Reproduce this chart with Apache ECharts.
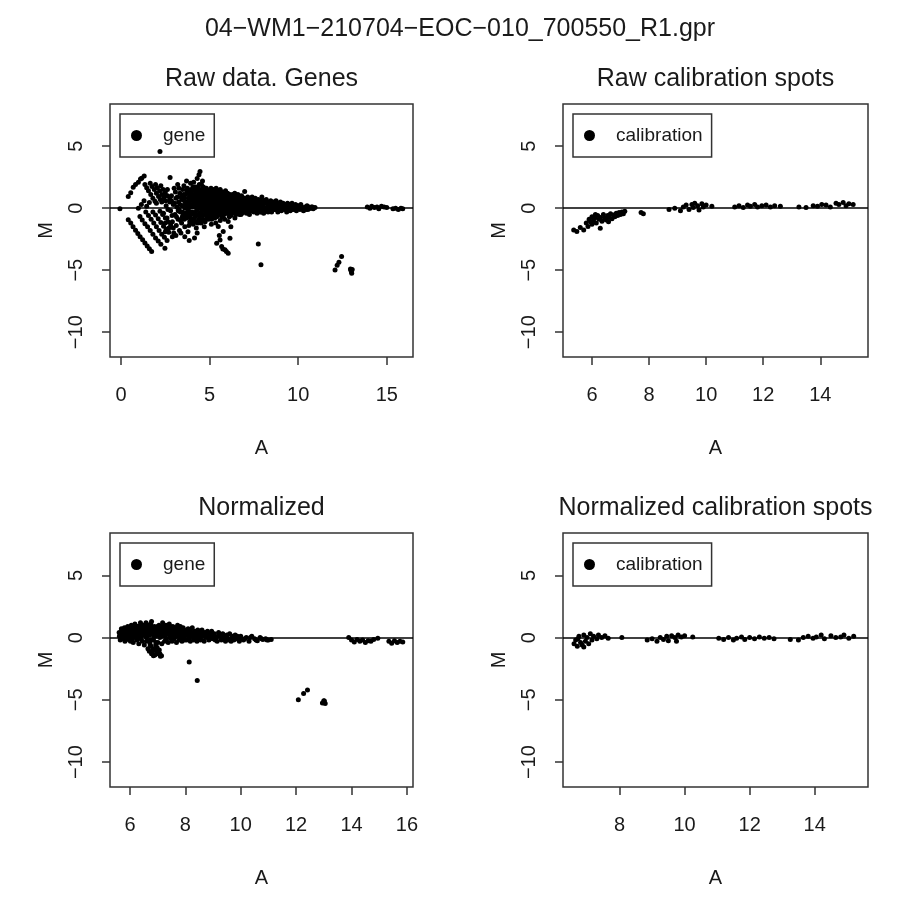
<!DOCTYPE html>
<html><head><meta charset="utf-8">
<script src="https://cdn.jsdelivr.net/npm/echarts@6/dist/echarts.min.js"></script>
<style>html,body{margin:0;padding:0;background:#fff}#c{width:899px;height:903px}</style>
</head><body><div id="c"></div>
<script>
// ---------- texts & ticks ----------
const mainTitle = '04-WM1-210704-EOC-010_700550_R1.gpr';
const panelTitles = ['Raw data. Genes', 'Raw calibration spots', 'Normalized', 'Normalized calibration spots'];
const seriesNames = ['gene', 'calibration', 'gene', 'calibration'];
const xTicks = [[0, 5, 10, 15], [6, 8, 10, 12, 14], [6, 8, 10, 12, 14, 16], [8, 10, 12, 14]];
const yTicks = [-10, -5, 0, 5];
const xRanges = [[-0.62, 16.48], [4.985, 15.67], [5.28, 16.22], [6.26, 15.64]];
const yRange = [-12.0, 8.4];

// ---------- Panel 1: raw genes (A, M) ----------
const rawStreaks = [
  [0.41,0.94],[0.55,1.25],[0.69,1.69],[0.82,1.9],[0.98,2.1],[1.1,2.35],[1.17,2.42],[1.31,2.6],
  [1.35,1.9],[1.45,1.65],[1.55,1.4],[1.68,1.1],[1.8,0.8],[1.92,0.55],[2.0,0.4],
  [1.65,2.0],[1.75,1.75],[1.88,1.5],[2.0,1.2],[2.12,0.95],[2.22,0.7],[2.3,0.5],
  [1.95,1.9],[2.05,1.65],[2.18,1.4],[2.3,1.1],[2.42,0.85],[2.52,0.6],
  [2.25,1.8],[2.38,1.5],[2.5,1.25],[2.62,1.0],[2.75,0.75],[2.85,0.6],
  [1.15,0.3],[1.3,0.6],[1.45,0.15],[1.6,0.45],
  [0.41,-0.94],[0.55,-1.2],[0.68,-1.5],[0.82,-1.78],[0.95,-2.05],[1.08,-2.3],[1.22,-2.55],[1.35,-2.8],[1.48,-3.05],[1.6,-3.28],[1.73,-3.5],
  [1.07,-0.68],[1.2,-0.95],[1.35,-1.25],[1.5,-1.5],[1.65,-1.8],[1.8,-2.1],[1.95,-2.4],[2.1,-2.65],[2.25,-2.9],[2.48,-3.23],
  [1.4,-0.3],[1.55,-0.6],[1.7,-0.9],[1.85,-1.2],[2.0,-1.5],[2.15,-1.8],[2.3,-2.1],[2.45,-2.35],[2.6,-2.6],
  [1.8,-0.3],[1.95,-0.55],[2.1,-0.85],[2.25,-1.15],[2.4,-1.45],[2.55,-1.7],[2.7,-1.95],[2.9,-2.3],
  [2.2,-0.25],[2.35,-0.5],[2.5,-0.8],[2.65,-1.1],[2.8,-1.35],[2.95,-1.6],
  [-0.06,-0.05],[0.98,0.0]
];
const rawCloud = [
  [2.35,0.6],[2.4,-0.4],[2.45,1.1],[2.5,-1.2],[2.55,0.2],[2.6,-0.8],[2.62,1.5],[2.7,-1.6],[2.75,0.5],[2.77,2.47],[2.8,-0.2],[2.85,1.0],[2.9,-1.1],[2.95,0.3],[2.98,-2.0],[2.5,-1.9],[2.65,-0.1],[2.88,-0.6],
  [3.0,1.6],[3.05,-0.5],[3.1,0.8],[3.12,-1.4],[3.15,0.1],[3.2,1.9],[3.22,-0.9],[3.25,0.5],[3.3,-1.8],[3.32,1.2],[3.35,-0.3],[3.4,0.9],[3.42,-1.2],[3.45,0.2],[3.48,1.5],[3.1,-2.2],[3.28,-0.1],[3.38,-2.0],[3.46,-0.7],
  [3.5,-0.4],[3.55,1.8],[3.58,0.6],[3.6,-1.5],[3.62,0.0],[3.65,1.1],[3.7,-0.8],[3.72,0.4],[3.75,1.6],[3.78,-1.9],[3.8,0.8],[3.82,-0.2],[3.85,1.3],[3.88,-1.1],[3.9,0.3],[3.93,2.0],[3.95,-0.5],[3.98,0.9],[3.6,-2.3],[3.7,2.2],[3.85,-2.6],
  [4.0,1.4],[4.02,-0.3],[4.05,0.6],[4.08,-1.3],[4.1,2.1],[4.12,0.1],[4.15,1.0],[4.18,-0.7],[4.2,1.7],[4.22,0.4],[4.25,-1.6],[4.28,0.8],[4.3,2.4],[4.32,-0.1],[4.35,1.2],[4.38,-0.9],[4.4,0.5],[4.42,1.9],[4.45,-0.4],[4.46,2.95],[4.48,0.9],[4.3,-2.0],[4.15,-2.4],[4.4,2.7],
  [4.5,1.5],[4.52,-1.2],[4.55,0.3],[4.58,1.1],[4.6,-0.6],[4.62,0.7],[4.65,1.7],[4.68,0.0],[4.7,-1.5],[4.72,1.3],[4.75,0.5],[4.78,-0.3],[4.8,0.9],[4.82,1.6],[4.85,-0.8],[4.88,0.2],[4.9,1.2],[4.92,-0.2],[4.95,0.7],[4.98,1.4],[4.6,2.2],[4.75,-1.1],
  [5.0,0.4],[5.02,-0.5],[5.05,1.0],[5.08,1.6],[5.1,0.1],[5.12,-0.9],[5.15,0.6],[5.18,1.3],[5.2,-0.2],[5.22,0.8],[5.25,1.5],[5.28,0.3],[5.3,-0.6],[5.32,1.1],[5.35,0.5],[5.38,-0.1],[5.4,1.4],[5.42,0.7],[5.45,-0.4],[5.48,1.0],[5.1,-1.3],[5.35,-1.2],
  [5.5,0.2],[5.52,1.2],[5.55,-0.3],[5.58,0.7],[5.6,1.5],[5.62,0.0],[5.65,0.9],[5.68,-0.7],[5.7,0.4],[5.72,1.3],[5.75,-0.2],[5.78,0.6],[5.8,1.1],[5.82,-0.5],[5.85,0.3],[5.88,0.8],[5.9,1.4],[5.92,-0.1],[5.95,0.5],[5.98,1.0],[5.6,-1.0],[5.85,-0.9],
  [6.0,0.2],[6.02,1.2],[6.05,-0.4],[6.08,0.6],[6.1,0.9],[6.12,-0.1],[6.15,1.1],[6.18,0.4],[6.2,-0.6],[6.22,0.7],[6.25,0.1],[6.28,1.0],[6.3,-0.3],[6.32,0.5],[6.35,0.8],[6.38,-0.2],[6.4,0.3],[6.42,1.2],[6.45,0.6],[6.48,-0.5],
  [6.5,0.2],[6.52,0.9],[6.55,-0.3],[6.58,0.5],[6.6,1.1],[6.62,0.0],[6.65,0.7],[6.68,-0.5],[6.7,0.3],[6.72,0.9],[6.75,-0.1],[6.78,0.5],[6.8,1.0],[6.82,-0.4],[6.85,0.2],[6.88,0.7],[6.9,-0.2],[6.95,0.4],[6.98,1.34],
  [7.0,0.1],[7.05,0.7],[7.08,-0.4],[7.1,0.4],[7.15,0.9],[7.18,-0.1],[7.2,0.5],[7.25,-0.5],[7.28,0.2],[7.3,0.8],[7.35,-0.2],[7.38,0.4],[7.4,0.9],[7.45,0.0],[7.48,0.6],
  [7.5,-0.3],[7.55,0.3],[7.58,0.8],[7.6,0.0],[7.65,0.5],[7.68,-0.4],[7.7,0.2],[7.75,0.7],[7.78,-0.1],[7.8,0.4],[7.85,-0.3],[7.88,0.6],[7.9,0.1],[7.95,0.9],[7.98,-0.2],
  [8.0,0.3],[8.05,-0.4],[8.08,0.6],[8.1,0.0],[8.15,0.4],[8.18,-0.2],[8.2,0.7],[8.25,0.1],[8.3,-0.3],[8.32,0.5],[8.38,0.2],[8.42,-0.1],[8.45,0.6],[8.48,0.3],
  [8.5,-0.3],[8.55,0.2],[8.6,0.5],[8.65,-0.1],[8.7,0.3],[8.75,0.6],[8.8,0.0],[8.85,-0.3],[8.9,0.4],[8.95,0.1],
  [9.0,0.5],[9.05,-0.2],[9.1,0.2],[9.15,0.4],[9.2,-0.1],[9.25,0.3],[9.3,0.1],[9.35,-0.3],[9.4,0.4],[9.45,0.0],
  [9.5,0.3],[9.55,-0.2],[9.6,0.1],[9.65,0.4],[9.7,-0.1],[9.75,0.2],[9.8,0.0],[9.85,0.3],[9.9,-0.2],[9.95,0.1],
  [10.0,0.2],[10.1,-0.1],[10.15,0.3],[10.25,0.0],[10.3,-0.2],[10.4,0.1],[10.5,0.2],[10.55,-0.1],[10.65,0.0],[10.75,0.1],[10.85,-0.05],[10.95,0.05]
];
const rawCloudDense = [
  [3.02,0.4],[3.07,1.3],[3.13,-0.7],[3.18,0.9],[3.23,-0.2],[3.27,1.6],[3.33,0.3],[3.37,-1.0],[3.43,0.7],[3.47,-0.3],[3.53,1.1],[3.57,-0.9],[3.63,0.5],[3.67,-0.4],[3.73,1.2],[3.77,0.1],[3.83,-1.4],[3.87,0.6],[3.92,-0.8],[3.97,1.5],
  [4.03,0.2],[4.07,1.1],[4.11,-1.0],[4.14,0.5],[4.19,1.4],[4.23,-0.5],[4.27,0.2],[4.31,1.5],[4.34,-1.2],[4.39,0.9],[4.43,0.0],[4.47,-0.9],[4.51,0.6],[4.54,1.9],[4.57,-0.2],[4.61,1.2],[4.64,0.3],[4.67,-1.0],[4.71,0.9],[4.74,-0.5],[4.77,1.3],[4.81,0.1],[4.84,-0.4],[4.87,1.0],[4.91,0.4],[4.94,-0.9],[4.97,0.2],[4.99,0.9],
  [5.01,1.2],[5.04,-0.2],[5.07,0.7],[5.11,1.4],[5.14,-0.6],[5.17,0.2],[5.21,0.5],[5.24,-0.3],[5.27,1.2],[5.31,0.0],[5.34,0.8],[5.37,1.6],[5.41,-0.7],[5.44,0.4],[5.47,1.2],[5.51,-0.5],[5.54,0.9],[5.57,0.3],[5.61,-0.4],[5.64,1.1],[5.67,0.2],[5.71,0.8],[5.74,-0.6],[5.77,1.0],[5.81,0.2],[5.84,1.2],[5.87,-0.3],[5.91,0.6],[5.94,0.0],[5.97,0.7],
  [6.01,-0.2],[6.04,0.8],[6.07,0.3],[6.11,-0.7],[6.14,0.6],[6.17,1.0],[6.21,0.2],[6.24,-0.3],[6.27,0.6],[6.31,1.1],[6.34,0.0],[6.37,0.5],[6.41,-0.4],[6.44,0.9],[6.47,0.2],[6.51,-0.1],[6.54,0.6],[6.57,1.0],[6.61,0.3],[6.64,-0.3],[6.67,0.4],[6.71,0.7],[6.74,0.0],[6.77,-0.5],[6.81,0.6],[6.84,0.9],[6.87,0.1],[6.91,0.4],[6.94,-0.3],[6.97,0.8],
  [7.02,0.3],[7.07,-0.2],[7.12,0.6],[7.17,0.2],[7.22,-0.3],[7.27,0.7],[7.32,0.3],[7.37,-0.1],[7.42,0.6],[7.47,0.2],[7.52,0.5],[7.57,-0.2],[7.62,0.3],[7.67,0.6],[7.72,-0.2],[7.77,0.3],[7.82,0.0],[7.87,0.4],[7.92,-0.3],[7.97,0.3],[8.03,0.1],[8.12,0.5],[8.22,-0.1],[8.28,0.4],[8.35,0.0],[8.44,0.3],
  [8.52,0.1],[8.62,0.3],[8.72,-0.1],[8.82,0.2],[8.92,-0.1],[9.02,0.2],[9.12,0.0],[9.22,0.2],[9.32,-0.1],[9.42,0.2],[9.52,0.0],[9.62,-0.1],[9.72,0.2],[9.82,-0.1],[9.92,0.2],[10.05,0.0],[10.2,0.1],[10.35,0.0],[10.45,-0.1],[10.6,0.1],[10.7,0.0],[10.8,0.1]
];
const rawCloudFill = [
  [3.52,0.2],[3.56,0.9],[3.61,-0.6],[3.66,0.3],[3.71,1.4],[3.76,-0.3],[3.81,0.5],[3.86,-0.6],[3.91,1.0],[3.96,0.1],
  [4.01,0.7],[4.04,-0.9],[4.06,1.7],[4.09,0.3],[4.13,-0.4],[4.16,0.8],[4.21,-1.1],[4.24,1.1],[4.26,-0.2],[4.29,0.5],[4.33,1.7],[4.36,0.2],[4.41,-0.6],[4.44,1.3],[4.49,0.2],
  [4.53,-0.4],[4.56,0.9],[4.59,1.4],[4.63,-0.9],[4.66,0.4],[4.69,1.0],[4.73,-0.1],[4.76,0.7],[4.79,1.5],[4.83,-0.6],[4.86,0.5],[4.89,1.4],[4.93,0.0],[4.96,1.1],
  [5.03,0.3],[5.06,-0.8],[5.09,0.9],[5.13,0.3],[5.16,1.1],[5.19,-0.4],[5.23,1.0],[5.26,0.6],[5.29,-0.8],[5.33,0.4],[5.36,1.3],[5.39,0.2],[5.43,0.9],[5.46,0.1],[5.49,0.6],
  [5.53,0.5],[5.56,1.0],[5.59,-0.2],[5.63,0.6],[5.66,-0.5],[5.69,1.1],[5.73,0.1],[5.76,0.9],[5.79,-0.4],[5.83,0.5],[5.86,1.0],[5.89,-0.1],[5.93,0.9],[5.96,-0.4],[5.99,0.4],
  [6.03,0.5],[6.06,1.0],[6.09,-0.2],[6.13,0.3],[6.16,-0.5],[6.19,0.8],[6.23,0.4],[6.26,0.9],[6.29,-0.1],[6.33,0.2],[6.36,1.0],[6.39,0.5],[6.43,-0.1],[6.46,0.4],[6.49,0.8],
  [6.53,0.0],[6.56,0.4],[6.59,-0.4],[6.63,0.8],[6.66,0.2],[6.69,0.5],[6.73,-0.3],[6.76,0.6],[6.79,0.1],[6.83,0.5],[6.86,-0.2],[6.89,0.3],[6.93,0.7],[6.96,0.0],[6.99,0.5],
  [7.03,-0.1],[7.06,0.4],[7.11,0.1],[7.16,0.5],[7.21,-0.1],[7.26,0.4],[7.31,0.0],[7.36,0.6],[7.41,0.2],[7.46,-0.2],[7.51,0.4],[7.56,0.0],[7.61,0.6],[7.66,0.2],[7.71,0.4],[7.76,-0.1],[7.81,0.2],[7.86,0.5],[7.91,-0.1],[7.96,0.2]
];
const rawLowAndFar = [
  [5.49,-1.48],[5.59,-2.56],[5.68,-3.1],[5.87,-3.36],[6.05,-3.63],[5.77,-1.88],[6.15,-2.42],[5.40,-2.82],[6.05,-1.08],[6.43,-0.8],[5.95,-3.5],[5.75,-3.3],[5.55,-2.2],[6.2,-1.5],
  [2.2,4.56],[7.75,-2.88],[7.9,-4.57],
  [12.08,-4.98],[12.2,-4.6],[12.3,-4.35],[12.45,-3.9],[12.95,-4.9],[13.0,-5.1],[13.02,-5.25],[12.98,-5.0],[13.05,-4.95],
  [13.9,0.1],[14.05,0.0],[14.15,0.15],[14.3,0.05],[14.45,0.1],[14.55,-0.05],[14.7,0.15],[14.85,0.1],[15.0,0.05],[15.35,-0.05],[15.5,0.0],[15.65,-0.1],[15.8,0.0],[15.9,-0.05]
];

// ---------- Panel 2: raw calibration ----------
const rawCalib = [
  [5.36,-1.75],[5.47,-1.89],[5.59,-1.56],[5.71,-1.75],[5.86,-1.48],[6.29,-1.61],
  [5.8,-1.2],[5.9,-0.9],[5.95,-1.1],[6.0,-0.7],[6.05,-1.0],[6.1,-0.8],[6.15,-1.2],[6.2,-0.6],[6.25,-0.9],[6.3,-0.75],[6.35,-1.05],[6.4,-0.5],[6.45,-0.8],[6.5,-0.95],[6.55,-0.6],[6.6,-0.75],[6.65,-0.45],[6.7,-0.85],[6.75,-0.55],[6.8,-0.7],[6.85,-0.4],[6.9,-0.6],[6.95,-0.35],[7.0,-0.5],[7.05,-0.3],[7.1,-0.45],[7.15,-0.25],[6.12,-0.5],[6.58,-1.1],[6.0,-1.3],
  [7.72,-0.35],[7.8,-0.45],
  [8.7,-0.1],[8.9,0.0],[9.1,-0.2],[9.2,0.1],[9.3,0.25],[9.4,-0.1],[9.5,0.3],[9.55,0.05],[9.6,0.4],[9.7,0.2],[9.75,-0.15],[9.85,0.35],[9.9,0.1],[10.0,0.25],[10.2,0.15],
  [11.0,0.1],[11.15,0.2],[11.3,0.05],[11.45,0.25],[11.55,0.15],[11.7,0.3],[11.8,0.1],[11.95,0.2],[12.1,0.25],[12.25,0.1],[12.4,0.2],[12.6,0.15],
  [13.25,0.1],[13.5,0.05],[13.75,0.2],[13.9,0.15],[14.05,0.3],[14.2,0.25],[14.35,0.1],[14.55,0.4],[14.65,0.3],[14.8,0.45],[14.9,0.2],[15.0,0.35],[15.15,0.3]
];

// ---------- Panel 3: normalized genes ----------
const normCloud = [
  [5.62,0.1],[5.65,-0.2],[5.68,0.4],[5.7,0.0],[5.72,0.6],[5.75,-0.1],[5.78,0.3],[5.8,0.8],[5.82,-0.3],[5.85,0.2],[5.88,0.5],[5.9,-0.1],[5.92,0.9],[5.95,0.3],[5.98,-0.2],[5.7,0.3],[5.85,0.7],
  [6.0,0.5],[6.02,-0.3],[6.05,1.0],[6.08,0.2],[6.1,0.7],[6.12,-0.4],[6.15,0.4],[6.18,1.1],[6.2,0.0],[6.22,0.6],[6.25,-0.2],[6.28,0.9],[6.3,0.3],[6.32,-0.5],[6.35,0.7],[6.38,1.2],[6.4,0.1],[6.42,0.5],[6.45,-0.3],[6.48,0.9],[6.1,0.2],[6.3,0.6],[6.45,1.0],
  [6.5,0.3],[6.52,-0.6],[6.55,0.8],[6.58,1.2],[6.6,0.0],[6.62,0.5],[6.65,-0.9],[6.68,1.0],[6.7,0.2],[6.72,-0.4],[6.75,0.7],[6.78,1.3],[6.8,-1.2],[6.82,0.4],[6.85,-0.2],[6.88,0.9],[6.9,-1.4],[6.92,0.1],[6.95,0.6],[6.98,-0.8],[6.7,-1.1],[6.85,-1.45],[6.6,-0.3],[6.75,1.1],
  [7.0,0.4],[7.02,-1.3],[7.05,1.0],[7.08,0.0],[7.1,-1.5],[7.12,0.6],[7.15,-0.5],[7.18,1.2],[7.2,0.2],[7.22,0.8],[7.25,-0.3],[7.28,0.5],[7.3,1.0],[7.32,-0.1],[7.35,0.6],[7.38,-0.4],[7.4,0.3],[7.42,1.1],[7.45,0.0],[7.48,0.7],[7.14,-1.45],
  [7.5,0.2],[7.52,-0.3],[7.55,0.9],[7.58,0.4],[7.6,-0.1],[7.62,0.7],[7.65,0.1],[7.68,-0.4],[7.7,0.6],[7.72,1.0],[7.75,0.2],[7.78,-0.2],[7.8,0.5],[7.82,0.9],[7.85,0.0],[7.88,-0.3],[7.9,0.4],[7.92,0.8],[7.95,0.1],[7.98,-0.2],
  [8.0,0.5],[8.05,-0.2],[8.08,0.3],[8.1,0.7],[8.15,0.0],[8.18,-0.3],[8.2,0.4],[8.25,0.8],[8.28,0.1],[8.3,-0.2],[8.35,0.5],[8.38,0.2],[8.42,-0.3],[8.45,0.6],[8.48,0.0],
  [8.5,0.3],[8.55,-0.2],[8.6,0.6],[8.62,0.1],[8.68,-0.3],[8.7,0.4],[8.75,0.0],[8.8,0.5],[8.85,-0.2],[8.9,0.2],[8.95,0.5],
  [9.0,-0.1],[9.05,0.3],[9.1,0.0],[9.15,-0.3],[9.2,0.4],[9.25,0.1],[9.3,-0.2],[9.35,0.3],[9.4,0.0],[9.45,-0.3],
  [9.5,0.2],[9.55,-0.1],[9.6,0.3],[9.65,-0.3],[9.7,0.1],[9.75,-0.2],[9.8,0.2],[9.85,-0.1],[9.9,0.0],[9.95,-0.3],
  [10.0,0.1],[10.1,-0.2],[10.2,0.0],[10.3,-0.3],[10.4,0.1],[10.5,-0.1],[10.6,-0.25],[10.7,0.0],[10.8,-0.15],[10.9,-0.1],[11.0,-0.2],[11.1,-0.15]
];
const normCloudDense = [
  [5.64,0.3],[5.69,0.7],[5.74,0.2],[5.79,0.5],[5.84,-0.1],[5.89,0.8],[5.94,0.1],[5.99,0.6],[6.04,0.3],[6.09,-0.1],[6.14,0.8],[6.19,0.4],[6.24,0.9],[6.29,0.1],[6.34,0.4],[6.39,-0.1],[6.44,0.7],[6.49,0.3],[6.54,0.4],[6.59,0.9],[6.64,0.3],[6.69,0.6],[6.74,-0.2],[6.79,0.3],[6.84,0.8],[6.89,0.4],[6.94,-0.4],[6.99,0.9],[6.76,-0.7],[6.96,-1.1],[7.06,-1.0],
  [7.04,0.3],[7.09,0.7],[7.14,0.1],[7.19,0.5],[7.24,0.9],[7.29,0.2],[7.34,0.4],[7.39,0.8],[7.44,0.3],[7.49,-0.1],[7.54,0.6],[7.59,0.2],[7.64,0.5],[7.69,0.1],[7.74,0.7],[7.79,0.3],[7.84,0.6],[7.89,0.1],[7.94,0.5],[7.99,0.3],[8.06,0.2],[8.14,0.5],[8.22,0.1],[8.32,0.3],[8.4,0.0],[8.5,0.4],[8.58,0.1],[8.66,0.3],[8.78,0.1],[8.88,-0.1],[8.98,0.2],
  [9.08,-0.2],[9.18,0.1],[9.28,0.2],[9.38,-0.1],[9.48,0.1],[9.58,-0.2],[9.68,0.0],[9.78,-0.1],[9.88,0.1],[9.98,-0.1],[10.15,-0.1],[10.35,0.0],[10.55,-0.2],[10.75,-0.1],[10.95,-0.2]
];
const normCloudFill = [
  [5.61,0.4],[5.66,0.2],[5.71,0.6],[5.76,0.4],[5.81,0.1],[5.86,0.6],[5.91,0.3],[5.96,0.7],[6.01,0.1],[6.06,0.6],[6.11,0.4],[6.16,0.9],[6.21,0.3],[6.26,0.6],[6.31,0.9],[6.36,0.2],[6.41,0.8],[6.46,0.5],[6.51,1.0],[6.56,0.1],[6.61,0.7],[6.66,0.4],[6.71,0.9],[6.76,0.3],[6.81,0.6],[6.86,0.1],[6.91,0.8],[6.96,0.2],[6.73,-0.6],[6.83,-0.9],[6.93,-0.6],[7.01,-0.4],[6.78,-1.3],[7.08,-1.3],[6.88,-1.0],
  [7.01,0.6],[7.06,0.2],[7.11,0.9],[7.16,0.4],[7.21,0.6],[7.26,0.1],[7.31,0.7],[7.36,0.3],[7.41,0.5],[7.46,0.9],[7.51,0.4],[7.56,0.1],[7.61,0.5],[7.66,0.8],[7.71,0.3],[7.76,0.5],[7.81,0.2],[7.86,0.7],[7.91,0.2],[7.96,0.6],
  [8.03,0.3],[8.11,0.1],[8.19,0.6],[8.27,0.3],[8.36,0.1],[8.44,0.4],[8.53,0.0],[8.63,0.3],[8.73,0.1],[8.83,0.3],[8.93,0.0]
];
const normFar = [
  [8.14,-1.97],[8.43,-3.45],
  [12.08,-5.0],[12.27,-4.5],[12.41,-4.2],[13.0,-5.07],[12.95,-5.25],[13.05,-5.3],[13.02,-5.1],
  [13.9,0.0],[14.0,-0.2],[14.1,-0.35],[14.2,-0.15],[14.3,-0.3],[14.4,-0.2],[14.5,-0.4],[14.6,-0.25],[14.7,-0.3],[14.8,-0.15],[14.95,-0.05],
  [15.35,-0.3],[15.45,-0.45],[15.55,-0.25],[15.65,-0.4],[15.75,-0.3],[15.85,-0.35]
];

// ---------- Panel 4: normalized calibration ----------
const normCalib = [
  [6.6,-0.5],[6.65,-0.2],[6.7,-0.7],[6.75,0.1],[6.8,-0.4],[6.85,-0.6],[6.9,0.2],[6.95,-0.3],[7.0,0.0],[7.05,-0.5],[7.1,0.3],[7.15,-0.2],[7.2,0.1],[7.3,-0.1],[7.35,0.2],[7.45,0.0],[7.55,0.15],[7.65,-0.05],[6.72,-0.1],[6.9,-0.75],
  [8.07,0.0],
  [8.85,-0.2],[9.0,-0.1],[9.15,-0.3],[9.25,0.0],[9.35,-0.15],[9.45,0.1],[9.5,-0.25],[9.6,0.15],[9.7,0.0],[9.75,-0.3],[9.8,0.2],[9.9,0.05],[10.0,0.15],[10.25,0.05],
  [11.05,-0.05],[11.2,-0.15],[11.35,0.0],[11.5,-0.2],[11.6,-0.05],[11.75,0.05],[11.85,-0.15],[12.0,0.0],[12.15,-0.1],[12.3,0.05],[12.45,-0.05],[12.6,0.0],[12.75,-0.1],
  [13.25,-0.15],[13.5,-0.2],[13.65,0.0],[13.8,0.1],[13.95,-0.05],[14.05,0.05],[14.2,0.2],[14.3,-0.1],[14.5,0.15],[14.65,0.0],[14.8,0.05],[14.9,0.2],[15.05,-0.05],[15.2,0.1]
];

const panelData = [
  rawStreaks.concat(rawCloud, rawCloudDense, rawCloudFill, rawLowAndFar),
  rawCalib,
  normCloud.concat(normCloudDense, normCloudFill, normFar),
  normCalib
];

// ---------- layout ----------
const FONT = 'Liberation Sans, Arial, Helvetica, sans-serif';
const INK = '#1a1a1a';
const grids = [
  {left: 110, top: 104, width: 303, height: 253},
  {left: 563, top: 104, width: 305, height: 253},
  {left: 110, top: 533, width: 303, height: 254},
  {left: 563, top: 533, width: 305, height: 254}
];
const minus = v => String(v).replace(/-/g, '\u2212');

const option = {
  animation: false,
  backgroundColor: '#ffffff',
  title: [
    {text: minus(mainTitle), left: 460, top: 17, textAlign: 'center', padding: 0,
     textStyle: {fontFamily: FONT, fontSize: 25, fontWeight: 'normal', color: INK}}
  ].concat(panelTitles.map((t, i) => ({
    text: t, left: grids[i].left + grids[i].width / 2, top: grids[i].top - 37, textAlign: 'center', padding: 0,
    textStyle: {fontFamily: FONT, fontSize: 25, fontWeight: 'normal', color: INK}
  }))),
  legend: seriesNames.map((n, i) => ({
    data: [n], left: i % 2 === 0 ? 120 : 573, top: grids[i].top + 10,
    orient: 'horizontal', icon: 'circle', itemWidth: 11, itemHeight: 11,
    borderColor: '#333', borderWidth: 1.5, padding: [12, 9, 12, 11],
    selectedMode: false,
    textStyle: {fontFamily: FONT, fontSize: 19, color: INK, padding: [0, 0, 0, 16]},
    itemStyle: {color: '#000'}
  })),
  grid: grids.map(g => Object.assign({show: true, borderColor: '#333', borderWidth: 1.5, backgroundColor: 'transparent', containLabel: false}, g)),
  xAxis: grids.map((g, i) => ({
    type: 'value', gridIndex: i, min: xRanges[i][0], max: xRanges[i][1],
    name: 'A', nameLocation: 'middle', nameGap: 81,
    nameTextStyle: {fontFamily: FONT, fontSize: 20, color: INK},
    axisLine: {show: false, onZero: false},
    axisTick: {show: true, inside: false, length: 8, customValues: xTicks[i], lineStyle: {color: '#333', width: 1.5}},
    axisLabel: {show: true, customValues: xTicks[i], margin: 28, fontFamily: FONT, fontSize: 20, color: INK, formatter: minus},
    splitLine: {show: false}
  })),
  yAxis: grids.map((g, i) => ({
    type: 'value', gridIndex: i, min: yRange[0], max: yRange[1],
    name: 'M', nameLocation: 'middle', nameGap: 54, nameRotate: 90,
    nameTextStyle: {fontFamily: FONT, fontSize: 20, color: INK},
    axisLine: {show: false, onZero: false},
    axisTick: {show: true, inside: false, length: 8, customValues: yTicks, lineStyle: {color: '#333', width: 1.5}},
    axisLabel: {show: true, customValues: yTicks, rotate: 90, margin: 24, fontFamily: FONT, fontSize: 20, color: INK, formatter: minus},
    splitLine: {show: false}
  })),
  series: panelData.map((d, i) => ({
    type: 'scatter', name: seriesNames[i], xAxisIndex: i, yAxisIndex: i,
    data: d, symbol: 'circle', symbolSize: 5,
    itemStyle: {color: '#000', opacity: 1},
    emphasis: {disabled: true},
    silent: true,
    markLine: {
      silent: true, symbol: 'none', animation: false,
      label: {show: false},
      lineStyle: {color: '#000', width: 1.5, type: 'solid'},
      emphasis: {disabled: true},
      data: [{yAxis: 0}]
    }
  }))
};

const chart = echarts.init(document.getElementById('c'), null, {renderer: 'canvas'});
chart.setOption(option);
</script>
</body></html>
